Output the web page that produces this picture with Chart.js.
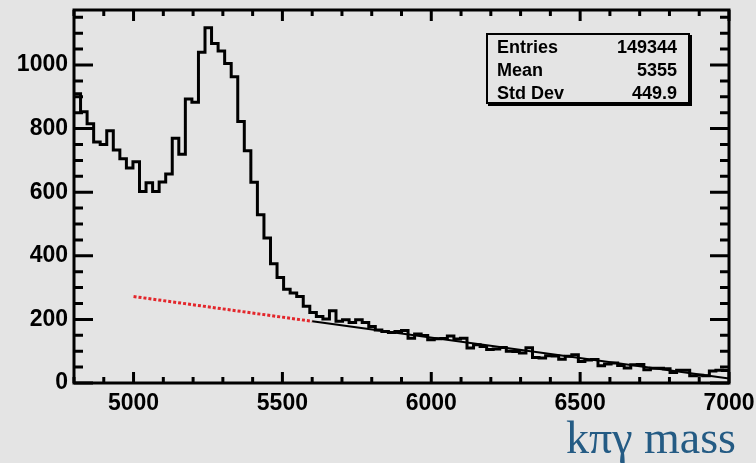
<!DOCTYPE html>
<html>
<head>
<meta charset="utf-8">
<script src="https://cdn.jsdelivr.net/npm/chart.js@4.4.0/dist/chart.umd.min.js"></script>
<style>
  html, body { margin: 0; padding: 0; background: #e4e4e4; }
  #wrap { position: relative; width: 756px; height: 463px; }
  #stats {
    position: absolute; left: 486px; top: 33px; height: 71px;
    border: 2px solid #000; box-shadow: 2px 2px 0 #000;
    font: bold 18px "Liberation Sans", Arial, sans-serif; color: #000;
    padding: 1px 11px 0 9px; box-sizing: border-box; width: 204px;
  }
  #stats .row { display: flex; justify-content: space-between; height: 23px; line-height: 23px; }
  #xtitle {
    position: absolute; right: 20px; top: 415px;
    font: 46px "Liberation Serif", "Times New Roman", serif; line-height: 46px;
    color: #245b84; white-space: nowrap;
  }
</style>
</head>
<body>
<div id="wrap">
  <canvas id="massChart" width="756" height="463"></canvas>
  <div id="stats"></div>
  <div id="xtitle">kπγ mass</div>
</div>
<script>
// 히스토그램 범위 (100 bins)
const xLow = 4800;
const xHigh = 7000;

// 각 bin 의 entries
const counts = [
  910, 853, 815, 758, 750, 793, 733, 705, 676, 696,
  602, 630, 602, 632, 657, 770, 719, 893, 883, 1040,
  1117, 1068, 1044, 1005, 963, 822, 730, 631, 529, 456,
  375, 332, 295, 283, 272, 241, 222, 209, 201, 227,
  194, 199, 190, 199, 190, 178, 167, 162, 159, 162,
  165, 141, 154, 149, 136, 139, 140, 148, 138, 141,
  110, 120, 115, 105, 107, 112, 100, 99, 94, 111,
  80, 79, 86, 85, 75, 84, 89, 68, 72, 74,
  54, 60, 63, 55, 47, 57, 58, 42, 46, 46,
  45, 33, 40, 40, 23, 24, 23, 38, 40, 39
];

// 배경 fit (점선 구간 / 실선 구간)
const fitDashX = [5000, 5600];
const fitDashY = [272, 194];
const fitSolidX = [5600, 7000];
const fitSolidY = [194, 14];

// 축 눈금
const xTickValues = [5000, 5500, 6000, 6500, 7000];
const yTickValues = [0, 200, 400, 600, 800, 1000];
const yTop = 1173;

// 통계 박스
const statLabels = ['Entries', 'Mean', 'Std Dev'];
const statValues = ['149344', '5355', '449.9'];

document.addEventListener('DOMContentLoaded', function() {
    initStats();
    initMassChart();
});

function initStats() {
    const box = document.getElementById('stats');
    statLabels.forEach((label, i) => {
        const row = document.createElement('div');
        row.className = 'row';
        row.innerHTML = '<span>' + label + '</span><span>' + statValues[i] + '</span>';
        box.appendChild(row);
    });
}

// 프레임과 안쪽 눈금 (ROOT 스타일)
const frameTicks = {
    id: 'frameTicks',
    afterDatasetsDraw(chart) {
        const { ctx, chartArea: a, scales: { x, y } } = chart;
        ctx.save();
        ctx.strokeStyle = '#000';
        ctx.lineWidth = 3;
        ctx.lineCap = 'butt';
        ctx.strokeRect(a.left, a.top, a.right - a.left, a.bottom - a.top);
        ctx.beginPath();
        for (let v = xLow; v <= xHigh; v += 100) {
            const px = x.getPixelForValue(v);
            const len = v % 500 === 0 ? 11 : 6;
            ctx.moveTo(px, a.bottom); ctx.lineTo(px, a.bottom - len);
            ctx.moveTo(px, a.top); ctx.lineTo(px, a.top + len);
        }
        for (let v = 0; v <= yTop; v += 50) {
            const py = y.getPixelForValue(v);
            const len = v % 200 === 0 ? 19 : 9;
            ctx.moveTo(a.left, py); ctx.lineTo(a.left + len, py);
            ctx.moveTo(a.right, py); ctx.lineTo(a.right - len, py);
        }
        ctx.stroke();
        ctx.restore();
    }
};

// 스케일 여백 제거 (chartArea 를 layout padding 으로만 결정)
function noScalePadding(s) {
    s.paddingTop = 0;
    s.paddingBottom = 0;
    s.paddingLeft = 0;
    s.paddingRight = 0;
}

function initMassChart() {
    const ctx = document.getElementById('massChart').getContext('2d');
    const binW = (xHigh - xLow) / counts.length;

    const histPoints = counts.map((c, i) => ({ x: xLow + i * binW, y: c }));
    histPoints.push({ x: xHigh, y: counts[counts.length - 1] });

    const tickFont = { family: '"Liberation Sans", Arial, sans-serif', size: 23, weight: 'bold' };

    new Chart(ctx, {
        type: 'line',
        data: {
            datasets: [{
                data: histPoints,
                stepped: true,
                borderColor: '#000',
                borderWidth: 3,
                borderJoinStyle: 'miter',
                pointRadius: 0,
                fill: false
            }, {
                data: fitDashX.map((v, i) => ({ x: v, y: fitDashY[i] })),
                borderColor: '#e3262b',
                borderWidth: 3,
                borderDash: [3, 2],
                pointRadius: 0
            }, {
                data: fitSolidX.map((v, i) => ({ x: v, y: fitSolidY[i] })),
                borderColor: '#000',
                borderWidth: 2,
                pointRadius: 0
            }]
        },
        options: {
            responsive: false,
            animation: false,
            devicePixelRatio: 1,
            layout: { padding: { left: 0, top: 10, right: 27, bottom: 0 } },
            plugins: { legend: { display: false }, tooltip: { enabled: false } },
            scales: {
                x: {
                    type: 'linear',
                    min: xLow,
                    max: xHigh,
                    grid: { display: false, drawTicks: false },
                    border: { display: false },
                    afterBuildTicks: s => { s.ticks = xTickValues.map(v => ({ value: v })); },
                    afterFit: s => { s.height = 80; noScalePadding(s); },
                    ticks: { color: '#000', font: tickFont, padding: 7, maxRotation: 0, callback: v => String(v) }
                },
                y: {
                    type: 'linear',
                    min: 0,
                    max: yTop,
                    grid: { display: false, drawTicks: false },
                    border: { display: false },
                    afterBuildTicks: s => { s.ticks = yTickValues.map(v => ({ value: v })); },
                    afterFit: s => { s.width = 74; noScalePadding(s); },
                    ticks: { color: '#000', font: tickFont, padding: 6, callback: v => String(v) }
                }
            }
        },
        plugins: [frameTicks]
    });
}
</script>
</body>
</html>
